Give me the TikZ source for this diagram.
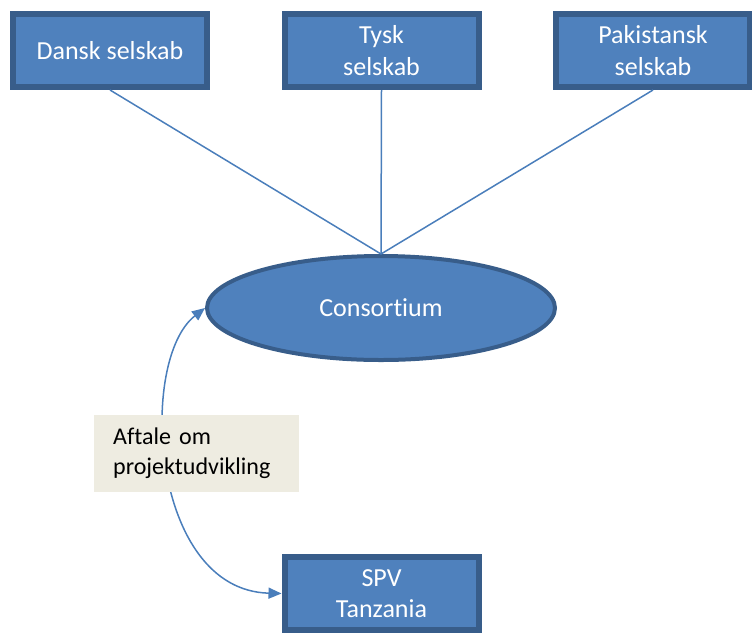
\documentclass[tikz,border=0pt]{standalone}
\usepackage{fontspec}
\setmainfont{Carlito}[Ligatures={NoCommon}]
\usetikzlibrary{arrows.meta,shapes.geometric}
\definecolor{boxfill}{HTML}{4F81BD}
\definecolor{boxline}{HTML}{385D8A}
\definecolor{connline}{HTML}{4A7EBB}
\definecolor{notefill}{HTML}{EEECE1}
\begin{document}
\begin{tikzpicture}[x=1pt,y=-1pt,
  boxnode/.style={draw=boxline, fill=boxfill, line width=6pt, minimum width=194pt,
    minimum height=73pt, inner sep=0pt, text=white, align=center,
    font=\fontsize{26}{31.5}\selectfont},
  ellnode/.style={ellipse, draw=boxline, fill=boxfill, line width=4pt, minimum width=348pt,
    minimum height=104pt, inner sep=0pt, text=white, font=\fontsize{26}{31.5}\selectfont},
  notenode/.style={fill=notefill, minimum height=77pt, text width=167pt, inner xsep=19pt,
    inner ysep=0pt, align=left, text=black, font=\fontsize{24}{30}\selectfont},
  connector/.style={draw=connline, line width=1.5pt},
  dblarrow/.style={draw=connline, line width=1.5pt,
    {Triangle[length=13pt,width=11pt]}-{Triangle[length=13pt,width=11pt]}}
]
\useasboundingbox (0,0) rectangle (752,633);
\node[boxnode] (dansk) at (110,50.5) {Dansk selskab};
\node[boxnode] (tysk) at (381.5,50.5) {Tysk\\selskab};
\node[boxnode] (pak) at (653,50.5) {Pakistansk\\selskab};
\node[ellnode] (cons) at (381,308) {Consortium};
\node[boxnode] (spv) at (381.5,593.5) {SPV\\Tanzania};
\draw[connector] (dansk.south) -- (cons.north);
\draw[connector] (tysk.south) -- (cons.north);
\draw[connector] (pak.south) -- (cons.north);
\draw[dblarrow] (cons.west) .. controls (138,360) and (150,590) .. (spv.west);
\node[notenode, anchor=north west] (note) at (94,415) {Aftale om\\projektudvikling};
\end{tikzpicture}
\end{document}
